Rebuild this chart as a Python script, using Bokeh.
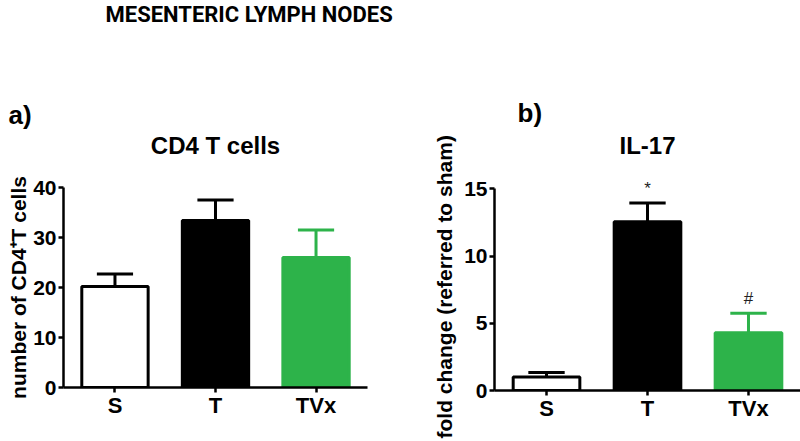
import numpy as np
from bokeh.plotting import figure
from bokeh.models import ColumnDataSource, LabelSet, Label, FixedTicker, Range1d, Title
from bokeh.core.properties import value
from bokeh.layouts import row, column
from bokeh.embed import file_html
from bokeh.resources import INLINE

# ---------------- data ----------------
main_title = "MESENTERIC LYMPH NODES"
categories = ["S", "T", "TVx"]

cd4_mean = [20.2, 33.4, 26.0]
cd4_sem = [2.5, 4.1, 5.5]

il17_mean = [1.0, 12.55, 4.3]
il17_sem = [0.33, 1.4, 1.45]
il17_marks = ["", "*", "#"]

panel_a_tag = "a)"
panel_b_tag = "b)"
panel_a_title = "CD4 T cells"
panel_b_title = "IL-17"
panel_a_ylabel = "number of CD4\u207AT cells"
panel_b_ylabel = "fold change (referred to sham)"
panel_a_yticks = [0, 10, 20, 30, 40]
panel_b_yticks = [0, 5, 10, 15]

# ---------------- style / layout ----------------
FILL = ["white", "black", "#2db34a"]
EDGE = ["black", "black", "#2db34a"]
FONT = "Liberation Sans"
BAR_W = 0.66
CAP_HALF = 0.18
HDR_A_H = 170
HDR_B_H = 128


def style_axes(p, xs, yticks):
    for ax in (p.xaxis[0], p.yaxis[0]):
        ax.axis_line_width = 2.5
        ax.axis_line_color = "black"
        ax.major_tick_line_width = 2.5
        ax.major_tick_line_color = "black"
        ax.major_tick_in = 0
        ax.minor_tick_line_color = None
        ax.major_label_text_font = FONT
        ax.major_label_text_font_style = "bold"
        ax.major_label_text_color = "black"
    p.xaxis.ticker = FixedTicker(ticks=list(xs))
    p.xaxis.major_label_overrides = {int(i): c for i, c in zip(xs, categories)}
    p.xaxis.major_tick_out = 5
    p.xaxis.major_label_standoff = 0
    p.xaxis.major_label_text_font_size = "22px"
    p.yaxis.ticker = FixedTicker(ticks=yticks)
    p.yaxis.bounds = (yticks[0], yticks[-1])
    p.yaxis.major_tick_out = 5
    p.yaxis.major_label_standoff = 2
    p.yaxis.major_label_text_font_size = "21px"


def make_panel(means, sems, yticks, marks, height, borders, xr, y_end):
    xs = np.arange(len(categories))
    upper = np.add(means, sems)
    src = ColumnDataSource(dict(
        x=xs, top=means, upper=upper,
        cap_l=xs - CAP_HALF, cap_r=xs + CAP_HALF,
        fill=FILL, edge=EDGE,
        mark=marks if marks is not None else [""] * len(categories),
    ))
    left, right, top, bottom = borders
    p = figure(width=400, height=height, output_backend="svg", toolbar_location=None,
               x_range=Range1d(*xr), y_range=Range1d(0, y_end),
               min_border_left=left, min_border_right=right,
               min_border_top=top, min_border_bottom=bottom)
    p.outline_line_color = None
    p.grid.visible = False
    p.background_fill_color = "white"
    p.border_fill_color = "white"

    # error bars (upper only)
    p.segment(x0="x", y0="top", x1="x", y1="upper", source=src,
              line_color="edge", line_width=3)
    p.segment(x0="cap_l", y0="upper", x1="cap_r", y1="upper", source=src,
              line_color="edge", line_width=3)
    # bars
    p.vbar(x="x", top="top", bottom=0, width=BAR_W, source=src,
           fill_color="fill", line_color="edge", line_width=3)
    style_axes(p, xs, yticks)

    if marks is not None:
        p.add_layout(LabelSet(x="x", y="upper", text="mark", source=src,
                              y_offset=5, text_align="center", text_baseline="bottom",
                              text_font=value(FONT), text_font_size="17px",
                              text_color="#222222"))
    return p


# ---- panel a ----
pa = make_panel(cd4_mean, cd4_sem, panel_a_yticks, None, 441 - HDR_A_H,
                (63, 33, 17, 54), (-0.512, 2.512), 40)
pa.yaxis.axis_label = panel_a_ylabel
pa.yaxis.axis_label_text_font = FONT
pa.yaxis.axis_label_text_font_style = "bold"
pa.yaxis.axis_label_text_font_size = "21px"
pa.yaxis.axis_label_text_color = "black"
pa.yaxis.axis_label_standoff = 0

# ---- panel b (frame reaches the top of its canvas; axis line bounded to 0..15) ----
pb = make_panel(il17_mean, il17_sem, panel_b_yticks, il17_marks, 441 - HDR_B_H,
                (94, 0, 0, 51), (-0.515, 2.515), 19.49)
pb.add_layout(Label(x=1, x_units="data", y=245, y_units="screen", text=panel_b_title,
                    text_align="center", text_baseline="middle",
                    text_font=FONT, text_font_style="bold", text_font_size="24px",
                    text_color="black"))
pb.add_layout(Title(text=panel_b_ylabel, align="left", offset=-48, standoff=12,
                    text_font=FONT, text_font_style="bold", text_font_size="21px",
                    text_color="black"), "left")

# ---------------- headers (page-pixel coordinates) ----------------
def header(width, height, x0):
    h = figure(width=width, height=height, output_backend="svg", toolbar_location=None,
               x_range=Range1d(x0, x0 + width), y_range=Range1d(height, 0),
               x_axis_type=None, y_axis_type=None,
               min_border_left=0, min_border_right=0,
               min_border_top=0, min_border_bottom=0)
    h.outline_line_color = None
    h.grid.visible = False
    return h


hdr_a = header(400, HDR_A_H, 0)
hdr_a.text(x=[105], y=[14], text=[main_title],
           text_font=value("Roboto"), text_font_style="bold", text_font_size="22px",
           text_color="black", text_align="left", text_baseline="middle")
hdr_a.text(x=[8], y=[114], text=[panel_a_tag],
           text_font=value(FONT), text_font_style="bold", text_font_size="26px",
           text_color="black", text_align="left", text_baseline="middle")
hdr_a.text(x=[215], y=[145], text=[panel_a_title],
           text_font=value(FONT), text_font_style="bold", text_font_size="24px",
           text_color="black", text_align="center", text_baseline="middle")

hdr_b = header(400, HDR_B_H, 400)
hdr_b.text(x=[517], y=[112], text=[panel_b_tag],
           text_font=value(FONT), text_font_style="bold", text_font_size="26px",
           text_color="black", text_align="left", text_baseline="middle")

layout = row(column(hdr_a, row(pa)), column(hdr_b, row(pb)))
open("out.html", "w").write(file_html(layout, INLINE))
